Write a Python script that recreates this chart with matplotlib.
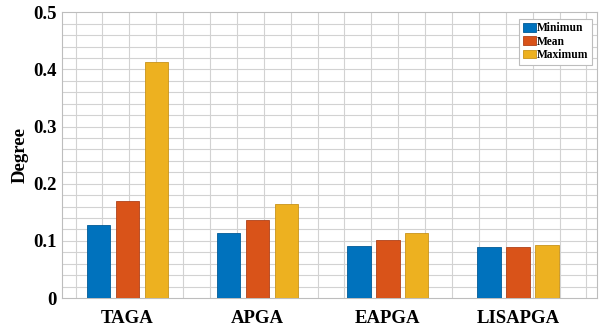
import numpy as np
import matplotlib
matplotlib.use("Agg")
import matplotlib.pyplot as plt

# Data
categories = ["TAGA", "APGA", "EAPGA", "LISAPGA"]
series_names = ["Minimun", "Mean", "Maximum"]
minimum = [0.128, 0.114, 0.0915, 0.0887]
mean = [0.170, 0.136, 0.102, 0.0898]
maximum = [0.413, 0.1645, 0.113, 0.0922]
y_ticks = [0, 0.1, 0.2, 0.3, 0.4, 0.5]
y_tick_labels = ["0", "0.1", "0.2", "0.3", "0.4", "0.5"]

colors = ["#0072BD", "#D95319", "#EDB120"]
edges = ["#005a96", "#b0421a", "#c8931a"]

plt.rcParams["font.family"] = ["Liberation Serif", "DejaVu Serif"]
plt.rcParams["font.weight"] = "bold"

fig = plt.figure(figsize=(6.01, 3.29), dpi=100)
ax = fig.add_axes([0.1037, 0.0942, 0.8896, 0.8684])

x = np.arange(1, len(categories) + 1)
width = 0.18
offsets = [-0.222, 0.0, 0.222]
for vals, off, c, ec, name in zip([minimum, mean, maximum], offsets, colors, edges, series_names):
    ax.bar(x + off, vals, width=width, color=c, edgecolor=ec, linewidth=0.6,
           label=name, zorder=3)

ax.set_xlim(0.5, 4.606)
ax.set_ylim(0, 0.5)
ax.set_xticks(x)
ax.set_xticklabels(categories, fontsize=13.5, fontweight="bold")
ax.set_yticks(y_ticks)
ax.set_yticklabels(y_tick_labels, fontsize=13.5, fontweight="bold")
ax.tick_params(axis="x", length=0, pad=8.5)
ax.tick_params(axis="y", length=0, pad=4)
ax.set_ylabel("Degree", fontsize=13.5, fontweight="bold", labelpad=3)

# Grid lines
grid_c = "#d2d2d2"
for gx in np.linspace(0.602, 4.525, 20):
    ax.axvline(gx, color=grid_c, linewidth=0.8, zorder=1)
for gy in np.arange(0.02, 0.5, 0.02):
    ax.axhline(gy, color=grid_c, linewidth=0.8, zorder=1)

for s in ax.spines.values():
    s.set_color("#bdbdbd")
    s.set_linewidth(0.8)

leg = ax.legend(loc="upper right", bbox_to_anchor=(0.9955, 0.985),
                prop={"weight": "bold", "size": 8.3}, frameon=True, fancybox=False,
                handlelength=1.15, handleheight=0.75, handletextpad=0.1,
                borderpad=0.3, labelspacing=0.12, borderaxespad=0.2)
leg.get_frame().set_edgecolor("#bdbdbd")
leg.get_frame().set_linewidth(0.8)
leg.get_frame().set_alpha(1.0)

fig.savefig("out.png", dpi=100)
